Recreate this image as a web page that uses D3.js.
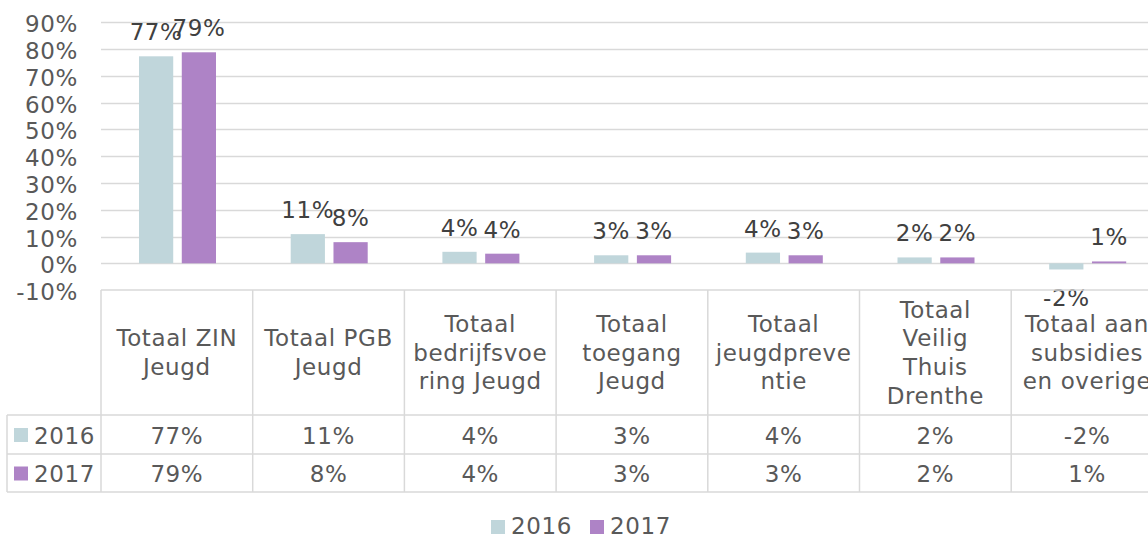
<!DOCTYPE html>
<html><head><meta charset="utf-8">
<script src="https://cdn.jsdelivr.net/npm/d3@7"></script>
<style>
html,body{margin:0;padding:0;background:#fff;}
svg{display:block;font-family:"DejaVu Sans",Verdana,sans-serif;}
svg text{letter-spacing:0.6px;}
</style></head>
<body>
<svg id="c" width="1148" height="536"></svg>
<script>
const categories = ["Totaal ZIN Jeugd","Totaal PGB Jeugd","Totaal bedrijfsvoering Jeugd","Totaal toegang Jeugd","Totaal jeugdpreventie","Totaal Veilig Thuis Drenthe","Totaal aan subsidies en overige"];
const categoryLines = [["Totaal ZIN","Jeugd"],["Totaal PGB","Jeugd"],["Totaal","bedrijfsvoe","ring Jeugd"],["Totaal","toegang","Jeugd"],["Totaal","jeugdpreve","ntie"],["Totaal","Veilig","Thuis","Drenthe"],["Totaal aan","subsidies","en overige"]];
const seriesNames = ["2016","2017"];
const values2016 = [77.3, 10.9, 4.3, 3.0, 4.0, 2.2, -2.3];
const values2017 = [78.8, 7.9, 3.6, 3.0, 3.0, 2.2, 0.7];
const labels2016 = ["77%","11%","4%","3%","4%","2%","-2%"];
const labels2017 = ["79%","8%","4%","3%","3%","2%","1%"];
const yTicks = [-10,0,10,20,30,40,50,60,70,80,90];
const colors = ["#c0d6db","#ae83c6"];

const svg = d3.select("#c");
const textColor = "#595959";
const fs = 23;
const x0 = 101, step = 151.7;
const x = d3.scaleBand().domain(categories).range([x0, x0 + step*categories.length]).padding(0);
const x1 = d3.scaleBand().domain(seriesNames).range([38, 115]).paddingInner(0.2);
const y = d3.scaleLinear().domain([-10, 90]).range([290.1, 22.3]);
const right = x.range()[1];

// gridlines
svg.append("g").selectAll("line").data(yTicks.filter(t=>t>-10)).join("line")
  .attr("x1", x0).attr("x2", right)
  .attr("y1", d=>Math.round(y(d))+0.5).attr("y2", d=>Math.round(y(d))+0.5)
  .attr("stroke", "#d9d9d9").attr("stroke-width", 1.5);

// y axis labels
svg.append("g").selectAll("text").data(yTicks).join("text")
  .attr("x", 78).attr("y", d=>y(d)+2).attr("text-anchor","end")
  .attr("dominant-baseline","central")
  .attr("font-size", fs).attr("fill", textColor).text(d=>d+"%");

// bars
const series = [values2016, values2017];
const seriesLabels = [labels2016, labels2017];
series.forEach((vals, si) => {
  svg.append("g").selectAll("rect").data(vals).join("rect")
    .attr("x", (d,i)=>x(categories[i]) + x1(seriesNames[si]))
    .attr("width", x1.bandwidth())
    .attr("y", d=>y(Math.max(0,d)))
    .attr("height", d=>Math.abs(y(d)-y(0)))
    .attr("fill", colors[si]);
  svg.append("g").selectAll("text").data(vals).join("text")
    .attr("x", (d,i)=>x(categories[i]) + x1(seriesNames[si]) + x1.bandwidth()/2)
    .attr("y", d=> d>=0 ? y(d)-16 : y(d)+37)
    .attr("text-anchor","middle").attr("font-size", fs).attr("fill", "#404040")
    .text((d,i)=>seriesLabels[si][i]);
});

// data table
const tTop = y(-10), hBot = 415, r1 = 454, r2 = 492, tLeft = 7;
const g = svg.append("g").attr("stroke","#d9d9d9").attr("stroke-width",1.5);
[[x0, tTop, right, tTop],[tLeft, hBot, right, hBot],[tLeft, r1, right, r1],[tLeft, r2, right, r2],[tLeft, hBot, tLeft, r2]]
  .forEach(l=>g.append("line").attr("x1",l[0]).attr("y1",l[1]).attr("x2",l[2]).attr("y2",l[3]));
g.selectAll("line.v").data(categories.concat(["end"])).join("line").attr("class","v")
  .attr("x1",(d,i)=>x0+i*x.step()).attr("x2",(d,i)=>x0+i*x.step())
  .attr("y1", tTop).attr("y2", r2);

// header labels
const lh = 28.7;
categoryLines.forEach((lines,i)=>{
  const cx = x(categories[i]) + x.bandwidth()/2;
  const cy = (tTop + hBot)/2;
  const t = svg.append("text").attr("text-anchor","middle").attr("font-size", fs).attr("fill", textColor);
  lines.forEach((ln,j)=>{
    t.append("tspan").attr("x", cx).attr("y", cy + (j - (lines.length-1)/2)*lh)
      .attr("dominant-baseline","central").text(ln);
  });
});

// row values
const rowsY = [(hBot+r1)/2, (r1+r2)/2];
seriesLabels.forEach((labs, si)=>{
  svg.append("g").selectAll("text").data(labs).join("text")
    .attr("x",(d,i)=>x(categories[i]) + x.bandwidth()/2)
    .attr("y", rowsY[si]+1).attr("dominant-baseline","central")
    .attr("text-anchor","middle").attr("font-size", fs).attr("fill", textColor).text(d=>d);
  svg.append("rect").attr("x",14).attr("y",rowsY[si]-6.5).attr("width",14).attr("height",14).attr("fill",colors[si]);
  svg.append("text").attr("x",34).attr("y",rowsY[si]+1).attr("dominant-baseline","central")
    .attr("font-size", fs).attr("fill", textColor).text(seriesNames[si]);
});

// legend
const legX = [491, 590];
seriesNames.forEach((s,si)=>{
  svg.append("rect").attr("x",legX[si]).attr("y",520).attr("width",14).attr("height",14).attr("fill",colors[si]);
  svg.append("text").attr("x",legX[si]+20).attr("y",534).attr("font-size",fs).attr("fill",textColor).text(s);
});
</script>
</body></html>
